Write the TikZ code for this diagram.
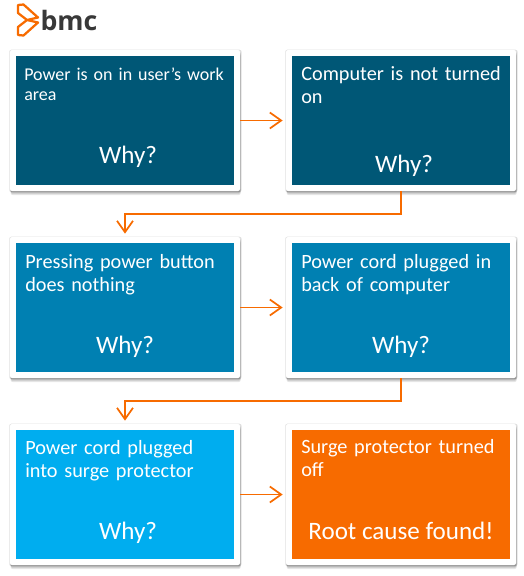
\documentclass[tikz,border=0pt]{standalone}
\usepackage{fontspec}
\usepackage{xcolor}
\usepackage{tikz}
\usetikzlibrary{shadows,arrows.meta,positioning}
\setmainfont{Carlito}
\newfontfamily\logofont{Open Sans}
\definecolor{bmcdark}{RGB}{0,87,118}
\definecolor{bmcmid}{RGB}{0,128,178}
\definecolor{bmcsky}{RGB}{0,173,239}
\definecolor{bmcorange}{RGB}{247,107,0}

\begin{document}
\begin{tikzpicture}[x=0.75pt, y=-0.75pt,
    frame/.style={rectangle, fill=white, rounded corners=1.5pt, minimum width=172.5pt,
                  minimum height=105.75pt, inner sep=0pt, outer sep=0pt,
                  general shadow={shadow xshift=0.3pt, shadow yshift=-0.3pt, opacity=0.12, fill=black, shadow scale=1.01},
                  general shadow={shadow xshift=0.5pt, shadow yshift=-1pt, opacity=0.14, fill=black},
                  general shadow={shadow xshift=0.5pt, shadow yshift=-2pt, opacity=0.14, fill=black},
                  general shadow={shadow xshift=0.5pt, shadow yshift=-3pt, opacity=0.1, fill=black}},
    box/.style={rectangle, minimum width=163.5pt, minimum height=96.75pt, inner sep=0pt},
    say/.style={text=white, font=\fontsize{15.2}{17.5}\selectfont, text width=160pt, align=left, inner sep=0pt},
    why/.style={text=white, font=\fontsize{18.8}{20}\selectfont, inner sep=0pt},
    arrow/.style={draw=bmcorange, line width=1.3pt, shorten >=2.5pt, -{Straight Barb[length=8.5pt,width=12pt]}}]

\useasboundingbox (0,0) rectangle (524,576);

% logo
\draw[bmcorange, line width=1.7pt, line join=round]
    (18,5) -- (23.5,4.5) -- (38,17.5) -- (27,20) -- (18,13) -- cycle
    (18,35) -- (23.5,35.5) -- (38,22.5) -- (27,20) -- (18,27) -- cycle;
\node[font=\logofont\bfseries\fontsize{20}{20}\selectfont, text=black!78, inner sep=0pt] (logo) at (69,20) {bmc};

% top row
\node[frame] (f1) at (125,120.5) {};
\node[frame, right=34.5pt of f1] (f2) {};
\node[box, fill=bmcdark] (a1) at (f1) {};
\node[box, fill=bmcdark] (a2) at (f2) {};

% middle row
\node[frame, below=34.5pt of f1] (f3) {};
\node[frame, right=34.5pt of f3] (f4) {};
\node[box, fill=bmcmid] (a3) at (f3) {};
\node[box, fill=bmcmid] (a4) at (f4) {};

% bottom row
\node[frame, below=34.5pt of f3] (f5) {};
\node[frame, right=34.5pt of f5] (f6) {};
\node[box, fill=bmcsky] (a5) at (f5) {};
\node[box, fill=bmcorange] (a6) at (f6) {};

% texts
\node[say, anchor=north west, font=\fontsize{13.5}{15}\selectfont] (t1) at (24,68) {Power is on in user’s work\\area};
\node[say, anchor=north west] (t2) at (301,66) {Computer is not turned\\on};
\node[say, anchor=north west] (t3) at (25,254) {Pressing power button\\does nothing};
\node[say, anchor=north west] (t4) at (301,254) {Power cord plugged in\\back of computer};
\node[say, anchor=north west] (t5) at (25,440) {Power cord plugged\\into surge protector};
\node[say, anchor=north west] (t6) at (301,439) {Surge protector turned\\off};

\node[why] (w1) at (128,157) {Why?};
\node[why] (w2) at (404,166) {Why?};
\node[why] (w3) at (125,347) {Why?};
\node[why] (w4) at (401,347) {Why?};
\node[why] (w5) at (128,533) {Why?};
\node[why] (w6) at (401,531) {Root cause found!};

% connectors
\draw[arrow] (f1) -- (f2);
\draw[arrow] (f2.south) -- ++(0,23) -| (f3.north);
\draw[arrow] (f3) -- (f4);
\draw[arrow] (f4.south) -- ++(0,23) -| (f5.north);
\draw[arrow] (f5) -- (f6);

\end{tikzpicture}
\end{document}
